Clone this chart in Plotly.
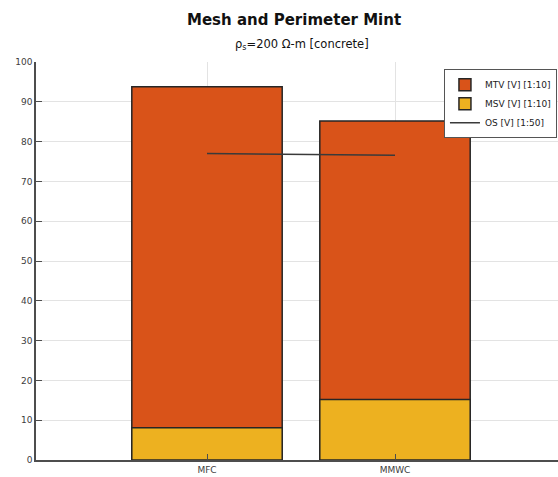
import plotly.graph_objects as go

categories = ["MFC", "MMWC"]
mtv = [93.8, 85.2]
msv = [8.1, 15.2]
os_vals = [77.0, 76.6]
y_ticks = [0, 10, 20, 30, 40, 50, 60, 70, 80, 90, 100]

FONT = "DejaVu Sans, Liberation Sans, Arial, sans-serif"
edge = "#262626"
fig = go.Figure()
fig.add_trace(go.Bar(x=categories, y=mtv, name="MTV [V] [1:10]", width=0.8,
                     marker=dict(color="#D95319", line=dict(color=edge, width=1.5))))
fig.add_trace(go.Bar(x=categories, y=msv, name="MSV [V] [1:10]", width=0.8,
                     marker=dict(color="#EDB120", line=dict(color=edge, width=1.5))))
fig.add_trace(go.Scatter(x=categories, y=os_vals, name="OS [V] [1:50]", mode="lines",
                         line=dict(color="#3a3a3a", width=1.5)))

axis_color = "#4d4d4d"
fig.update_layout(
    width=558, height=477,
    margin=dict(l=36, r=0, t=62, b=17),
    paper_bgcolor="white", plot_bgcolor="white",
    barmode="overlay",
    font=dict(family=FONT, size=9, color="#404040"),
    title=dict(text="<b>Mesh and Perimeter Mint</b>", x=0.527, xanchor="center",
               y=0.958, yanchor="middle",
               font=dict(size=15, color="#111111", family=FONT)),
    annotations=[dict(text="ρ<sub>s</sub>=200 Ω-m [concrete]", xref="paper", yref="paper",
                      x=0.51, y=1.0, yshift=18, showarrow=False, xanchor="center", yanchor="middle",
                      font=dict(size=11.5, color="#111111", family=FONT))],
    legend=dict(x=0.998, y=0.982, xanchor="right", yanchor="top",
                bgcolor="white", bordercolor="#555555", borderwidth=1,
                font=dict(size=9, color="#222222", family=FONT), traceorder="normal",
                itemwidth=30, tracegroupgap=0),
    showlegend=True,
)
fig.update_xaxes(type="category", range=[-0.9096, 1.867],
                 showgrid=True, gridcolor="#e3e3e3", gridwidth=1,
                 showline=True, linecolor=axis_color, linewidth=1.5,
                 ticks="inside", ticklen=6, tickcolor=axis_color,
                 tickfont=dict(size=9, color="#404040", family=FONT), zeroline=False)
fig.update_yaxes(range=[0, 100], tickvals=y_ticks,
                 showgrid=True, gridcolor="#e3e3e3", gridwidth=1,
                 showline=True, linecolor=axis_color, linewidth=1.5,
                 ticks="inside", ticklen=6, tickcolor=axis_color,
                 tickfont=dict(size=9, color="#404040", family=FONT), zeroline=False)

fig.write_html("out.html", config={"displayModeBar": False},
               post_script="document.body.style.margin='0';")
